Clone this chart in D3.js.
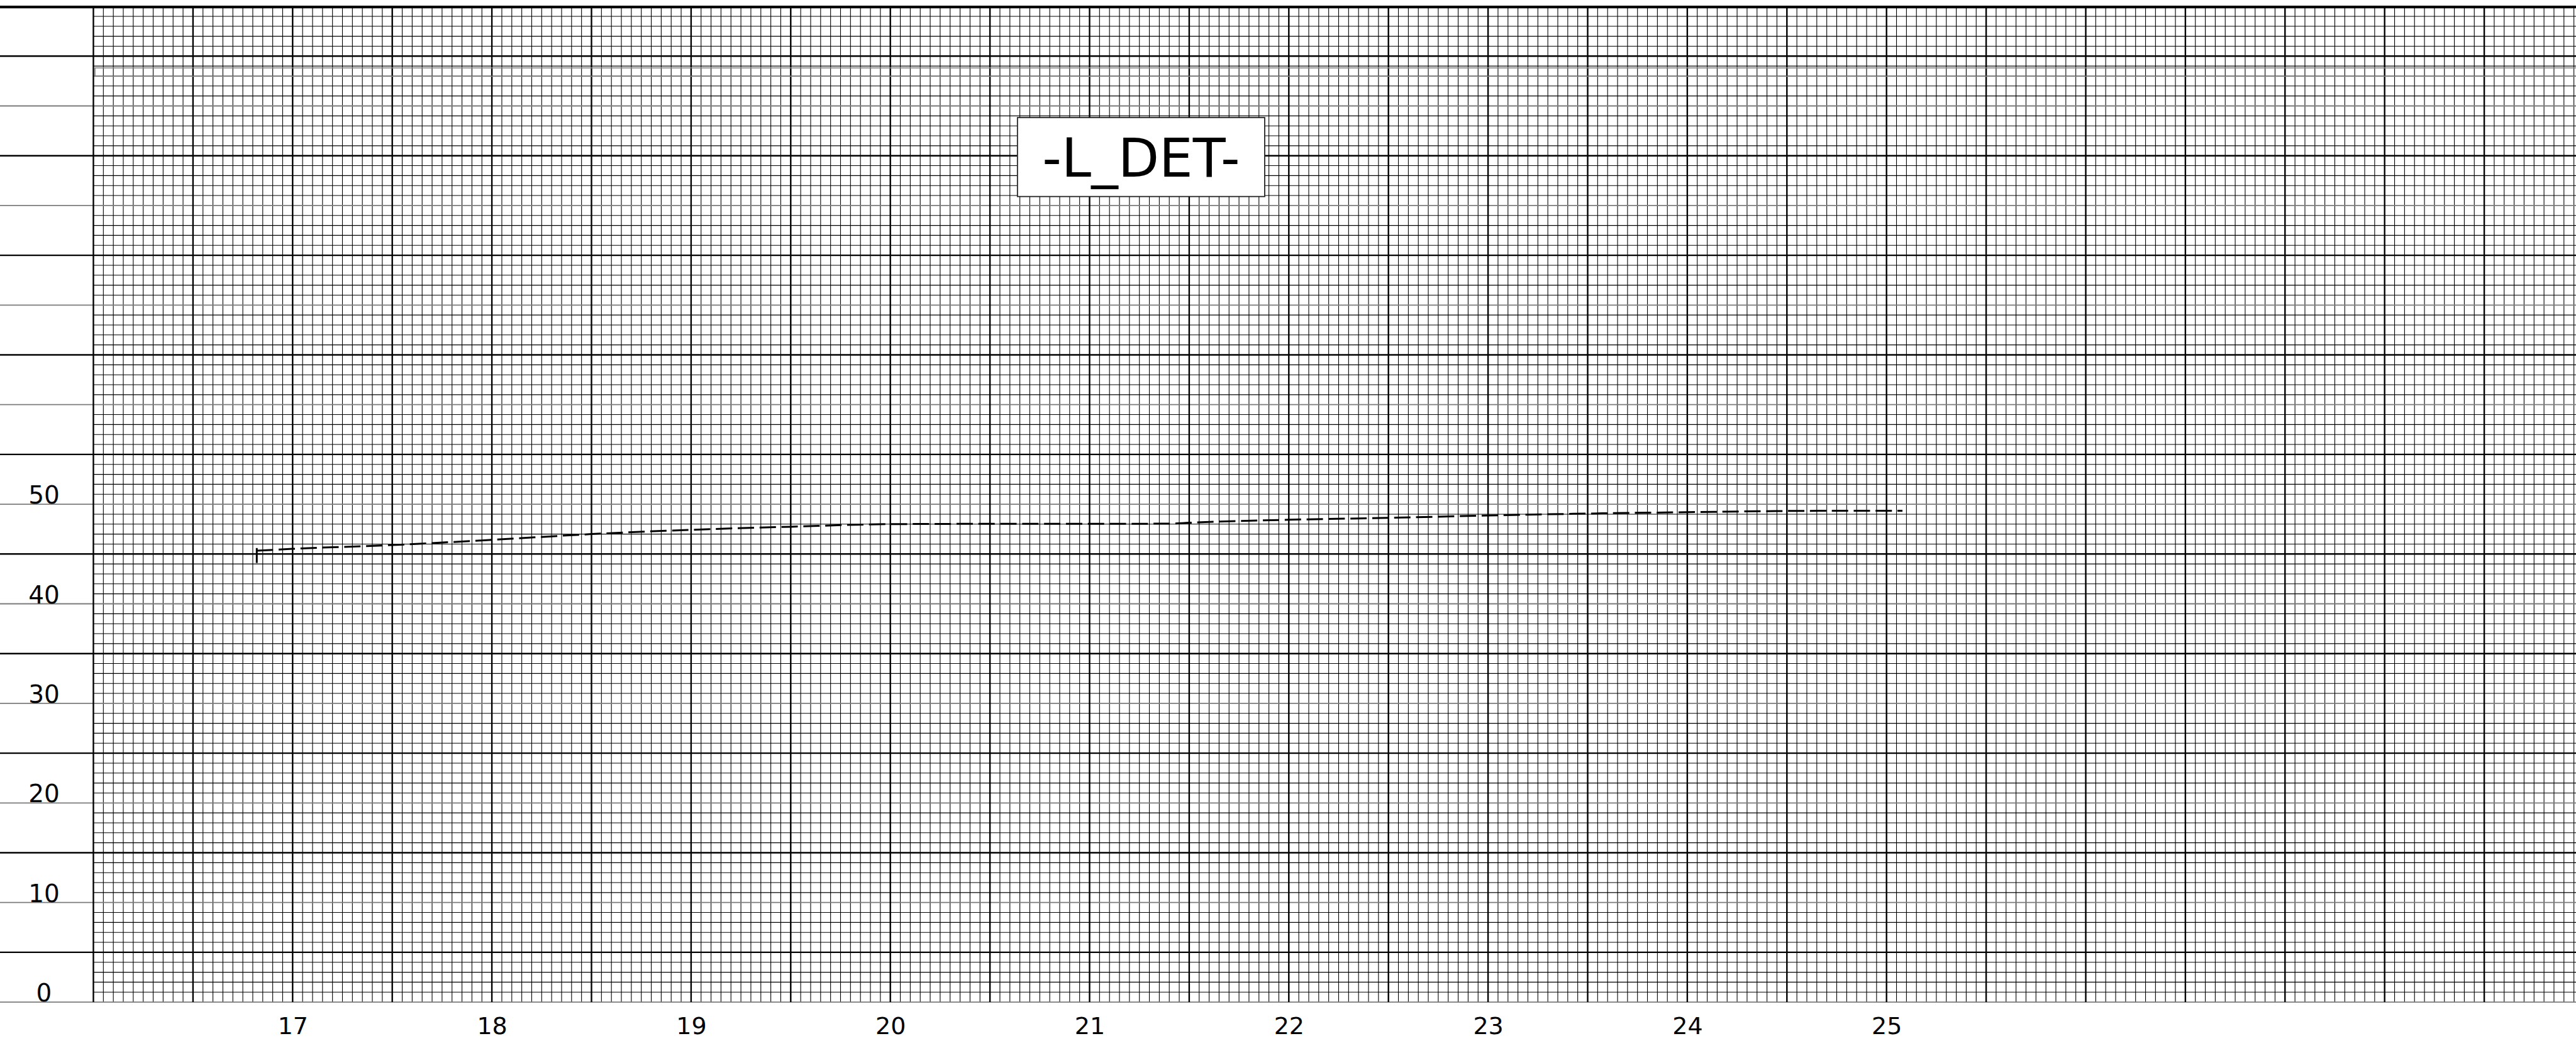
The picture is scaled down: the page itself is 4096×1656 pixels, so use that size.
<!DOCTYPE html>
<html>
<head>
<meta charset="utf-8">
<script src="https://cdn.jsdelivr.net/npm/d3@7"></script>
<style>
body{margin:0;background:#fff;}
svg{display:block;}
</style>
</head>
<body>
<div id="chart"></div>
<script>
// curve
var curveX = [16.82, 17.0, 17.5, 18.0, 18.5, 19.0, 19.5, 20.0, 20.5, 21.0, 21.4, 21.5, 22.0, 22.5, 23.0, 23.5, 24.0, 24.5, 25.0, 25.08];
var curveY = [45.33, 45.52, 45.9, 46.42, 47.0, 47.43, 47.74, 48.0, 48.03, 48.03, 48.05, 48.14, 48.44, 48.63, 48.87, 49.06, 49.2, 49.32, 49.35, 49.35];
var cursorX = 16.82;
var cursorSpan = [44.1, 45.6];
var xTickLabels = [17, 18, 19, 20, 21, 22, 23, 24, 25];
var yTickLabels = [0, 10, 20, 30, 40, 50];
var titleText = "-L_DET-";

var W = 4096, H = 1656;
var left = 148.5;
var unitX = 316.8;
var font = "'DejaVu Sans', sans-serif";

var x = d3.scaleLinear()
        .domain([16, 16 + (W - left) / unitX])
        .range([left, W]);
var y = d3.scaleLinear()
        .domain([0, 100])
        .range([1594.1, 10.1]);

var svg = d3.select("#chart")
  .append("svg")
    .attr("width", W)
    .attr("height", H)
    .style("background", "#fff");

// grid paper
var xMinor = d3.range(0, 250).map(function(i){ return {i: i, v: 16 + i * 0.05}; });
var yMinor = d3.range(0, 100).map(function(i){ return {i: i, v: i}; });

var grid = svg.append("g");

grid.selectAll(".vminor")
  .data(xMinor.filter(function(d){ return d.i % 10 != 0; }))
  .enter().append("line")
    .attr("x1", function(d){ return x(d.v); })
    .attr("x2", function(d){ return x(d.v); })
    .attr("y1", y(100))
    .attr("y2", y(0))
    .attr("stroke", "#000")
    .attr("stroke-width", 1.1);

grid.selectAll(".hminor")
  .data(yMinor.filter(function(d){ return d.i % 5 != 0; }))
  .enter().append("line")
    .attr("x1", left)
    .attr("x2", W)
    .attr("y1", function(d){ return y(d.v); })
    .attr("y2", function(d){ return y(d.v); })
    .attr("stroke", "#000")
    .attr("stroke-width", 1.1);

// every 10: grey, running into the label column
grid.selectAll(".hten")
  .data(yMinor.filter(function(d){ return d.i % 10 == 0; }))
  .enter().append("line")
    .attr("x1", 0)
    .attr("x2", W)
    .attr("y1", function(d){ return y(d.v); })
    .attr("y2", function(d){ return y(d.v); })
    .attr("stroke", "#7a7a7a")
    .attr("stroke-width", 1.8);

// odd fives: heavy black
grid.selectAll(".hfive")
  .data(yMinor.filter(function(d){ return d.i % 10 == 5; }))
  .enter().append("line")
    .attr("x1", 0)
    .attr("x2", W)
    .attr("y1", function(d){ return y(d.v); })
    .attr("y2", function(d){ return y(d.v); })
    .attr("stroke", "#000")
    .attr("stroke-width", 2.4);

grid.selectAll(".vmajor")
  .data(xMinor.filter(function(d){ return d.i % 10 == 0; }))
  .enter().append("line")
    .attr("x1", function(d){ return x(d.v); })
    .attr("x2", function(d){ return x(d.v); })
    .attr("y1", y(100))
    .attr("y2", y(0))
    .attr("stroke", "#000")
    .attr("stroke-width", 2.4);

// top border
grid.append("line")
  .attr("x1", 0).attr("x2", W)
  .attr("y1", y(100) + 1).attr("y2", y(100) + 1)
  .attr("stroke", "#000")
  .attr("stroke-width", 4.4);

// empty strip box near the top
svg.append("rect")
  .attr("x", x(16.008))
  .attr("y", y(93.82))
  .attr("width", W)
  .attr("height", y(92.98) - y(93.82))
  .attr("fill", "none")
  .attr("stroke", "#808080")
  .attr("stroke-width", 1.6);

// title box
var tb = svg.append("g");
tb.append("rect")
  .attr("x", x(20.638))
  .attr("y", y(88.83))
  .attr("width", x(21.879) - x(20.638))
  .attr("height", y(80.9) - y(88.83))
  .attr("fill", "#fff")
  .attr("stroke", "#222")
  .attr("stroke-width", 1.8);
tb.append("text")
  .attr("x", (x(20.638) + x(21.879)) / 2)
  .attr("y", y(82.88))
  .attr("text-anchor", "middle")
  .style("font-family", font)
  .style("font-size", "85px")
  .attr("fill", "#000")
  .text(titleText);

// the curve
var pts = curveX.map(function(v, i){ return [v, curveY[i]]; });
var line = d3.line()
  .x(function(d){ return x(d[0]); })
  .y(function(d){ return y(d[1]); })
  .curve(d3.curveMonotoneX);

svg.append("path")
  .datum(pts)
  .attr("d", line)
  .attr("fill", "none")
  .attr("stroke", "#000")
  .attr("stroke-width", 3)
  .attr("stroke-dasharray", "26,8.8");

svg.append("line")
  .attr("x1", x(cursorX)).attr("x2", x(cursorX))
  .attr("y1", y(cursorSpan[0])).attr("y2", y(cursorSpan[1]))
  .attr("stroke", "#000")
  .attr("stroke-width", 3);

// axis labels
var xa = svg.append("g")
  .attr("transform", "translate(0," + 1645 + ")")
  .call(d3.axisBottom(x).tickValues(xTickLabels).tickSize(0).tickPadding(0));
xa.select(".domain").remove();
xa.selectAll("text")
  .attr("y", 0)
  .attr("dy", 0)
  .attr("fill", "#000")
  .style("font-family", font)
  .style("font-size", "38px");

var ya = svg.append("g")
  .attr("transform", "translate(70,0)")
  .call(d3.axisLeft(y).tickValues(yTickLabels).tickSize(0).tickPadding(0));
ya.select(".domain").remove();
ya.selectAll("text")
  .attr("x", 0)
  .attr("y", -1.5)
  .attr("dy", 0)
  .attr("text-anchor", "middle")
  .attr("fill", "#000")
  .style("font-family", font)
  .style("font-size", "39px");
</script>
</body>
</html>
